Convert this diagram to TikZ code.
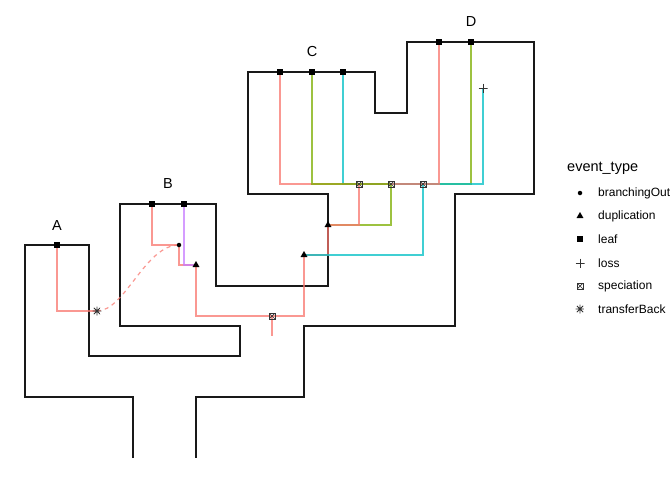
\documentclass[tikz,border=0pt]{standalone}
\usepackage{fontspec}
\setmainfont{Liberation Sans}
\usetikzlibrary{shapes.geometric}
\pgfdeclarelayer{background}
\pgfsetlayers{background,main}
\definecolor{genered}{HTML}{F8766D}
\definecolor{genegreen}{HTML}{7CAE00}
\definecolor{genecyan}{HTML}{00BFC4}
\definecolor{genepurple}{HTML}{C77CFF}
\definecolor{markgray}{HTML}{333333}

\begin{document}
\begin{tikzpicture}[x=1pt,y=-1pt,font=\fontsize{12}{14}\selectfont,
  outline/.style={black!90,line width=1.1pt},
  gene/.style={line width=1.2pt,draw opacity=0.75},
  leafmark/.style={rectangle,fill=black,inner sep=0pt,minimum size=5.5pt},
  dupmark/.style={regular polygon,regular polygon sides=3,fill=black,inner sep=0pt,minimum size=8pt},
  bomark/.style={circle,fill=black,inner sep=0pt,minimum size=4.5pt},
  spmark/.style={rectangle,draw=markgray,line width=0.8pt,inner sep=0pt,minimum size=6pt,
    path picture={\draw[markgray,line width=0.7pt] (path picture bounding box.south west) -- (path picture bounding box.north east)
      (path picture bounding box.north west) -- (path picture bounding box.south east);}},
  lossmark/.style={rectangle,inner sep=0pt,minimum size=9pt,
    path picture={\draw[markgray,line width=0.8pt] (path picture bounding box.north) -- (path picture bounding box.south)
      (path picture bounding box.west) -- (path picture bounding box.east);}},
  tbmark/.style={circle,inner sep=0pt,minimum size=9pt,
    path picture={\draw[markgray,line width=0.9pt] (path picture bounding box.north) -- (path picture bounding box.south)
      (path picture bounding box.west) -- (path picture bounding box.east)
      (path picture bounding box.south west) -- (path picture bounding box.north east)
      (path picture bounding box.north west) -- (path picture bounding box.south east);}},
  keytext/.style={anchor=west,inner sep=0pt}]
\useasboundingbox (0,0) rectangle (672,480);
\node[font=\fontsize{14.5}{17}\selectfont] (labA) at (57,226) {A};
\node[font=\fontsize{14.5}{17}\selectfont] (labB) at (168,184) {B};
\node[font=\fontsize{14.5}{17}\selectfont] (labC) at (312,52) {C};
\node[font=\fontsize{14.5}{17}\selectfont] (labD) at (471,22) {D};
\node[leafmark] (a1) at (57,245) {};
\node[leafmark] (b1) at (152,204) {};
\node[leafmark] (b2) at (184,204) {};
\node[leafmark] (c1) at (280,72) {};
\node[leafmark] (c2) at (312,72) {};
\node[leafmark] (c3) at (343,72) {};
\node[leafmark] (d1) at (439,42) {};
\node[leafmark] (d2) at (471,42) {};
\node[lossmark] (ls) at (483,88) {};
\node[spmark] (s1) at (359,184) {};
\node[spmark] (s2) at (391,184) {};
\node[spmark] (s3) at (423,184) {};
\node[spmark] (s0) at (272,316) {};
\node[dupmark] (u2) at (328,225) {};
\node[dupmark] (u1) at (304,255) {};
\node[dupmark] (ub) at (196,265) {};
\node[bomark] (bo) at (179,245) {};
\node[tbmark] (tb) at (97,311) {};
\coordinate (rt) at (272,336);
\begin{pgfonlayer}{background}
\draw[outline] (133,458) -- (133,397) -- (25,397) -- (25,245) -- (89,245) -- (89,356) -- (240,356)
  -- (240,326) -- (120,326) -- (120,204) -- (216,204) -- (216,286) -- (328,286) -- (328,194)
  -- (248,194) -- (248,72) -- (375,72) -- (375,113) -- (407,113) -- (407,42) -- (534,42)
  -- (534,194) -- (455,194) -- (455,326) -- (304,326) -- (304,397) -- (196,397) -- (196,458);
\draw[gene,genered] (a1.center) |- (tb.center);
\draw[gene,genered] (b1.center) |- (bo.center);
\draw[gene,genered] (bo.center) |- (ub.center);
\draw[gene,genered] (ub.center) |- (s0.center);
\draw[gene,genered] (u1.center) |- (s0.center);
\draw[gene,genered] (s0.center) -- (rt);
\draw[gene,genered] (u2.center) |- (u1.center);
\draw[gene,genegreen] (s2.center) |- (u2.center);
\draw[gene,genered] (s1.center) |- (u2.center);
\draw[gene,genecyan] (s3.center) |- (u1.center);
\draw[gene,genegreen] (d2.center) |- (s2.center);
\draw[gene,genecyan] (ls.center) |- (s3.center);
\draw[gene,genecyan] (c3.center) |- (s3.center);
\draw[gene,genered] (d1.center) |- (s1.center);
\draw[gene,genered] (c1.center) |- (s1.center);
\draw[gene,genegreen] (c2.center) |- (s2.center);
\draw[gene,genepurple] (b2.center) |- (ub.center);
\draw[gene,genered,dash pattern=on 4pt off 4pt] (tb.center) .. controls +(28,0) and +(-34,0) .. (bo.center);
\end{pgfonlayer}
\node[font=\fontsize{14.5}{17}\selectfont,keytext] (keytitle) at (567,168) {event\_type};
\foreach \y/\mk/\txt in {193/bomark/branchingOut,216/dupmark/duplication,239/leafmark/leaf,
  263/lossmark/loss,286/spmark/speciation,309/tbmark/transferBack}{%
  \node[\mk] (key\txt) at (580,\y) {};
  \node[keytext] (lab\txt) at (598,\y) {\txt};
}
\end{tikzpicture}
\end{document}
